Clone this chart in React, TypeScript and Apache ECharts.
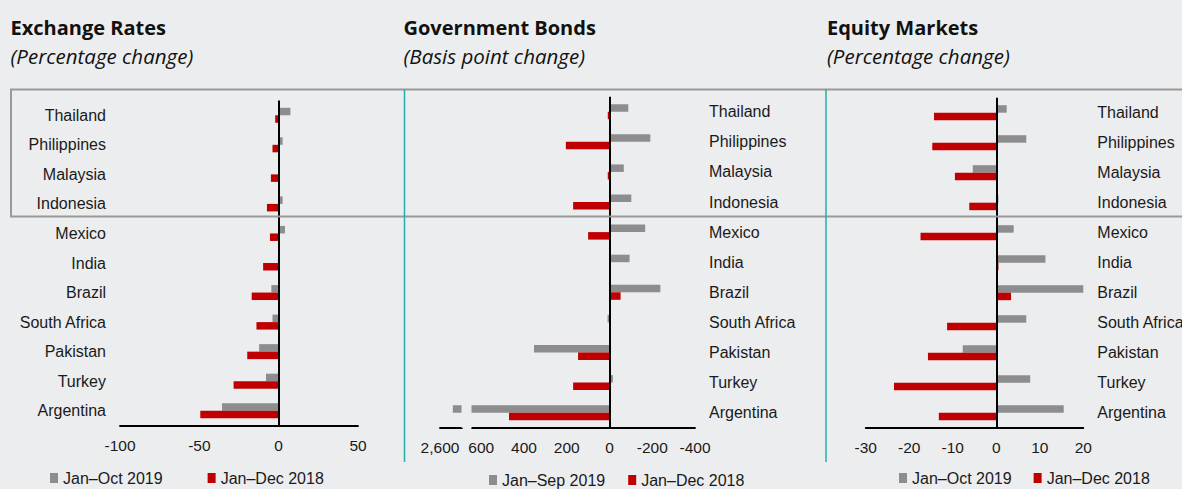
import React, { useEffect, useRef } from 'react';
import * as echarts from 'echarts';

const countries = ['Thailand', 'Philippines', 'Malaysia', 'Indonesia', 'Mexico', 'India', 'Brazil', 'South Africa', 'Pakistan', 'Turkey', 'Argentina'];

const fx2019 = [7.4, 2.5, 0, 2.5, 4.0, -0.5, -4.6, -3.9, -12.3, -8.0, -35.7];
const fx2018 = [-2.2, -3.9, -4.9, -7.4, -5.5, -9.8, -17.0, -14.0, -19.8, -28.4, -49.4];
const bond2019 = [-88, -191, -67, -102, -167, -94, -238, 9, 353, -16, 2540];
const bond2018 = [8, 204, 8, 170, 100, -5, -52, 2, 147, 170, 470];
const eq2019 = [2.4, 6.9, -5.4, 0.5, 4.0, 11.3, 20.3, 6.9, -7.7, 7.8, 15.5];
const eq2018 = [-14.3, -14.7, -9.5, -6.2, -17.4, 0.5, 3.4, -11.3, -15.7, -23.5, -13.2];

const bondTicks = [-400, -200, 0, 200, 400, 600, 2600];

const titles = ['Exchange Rates', 'Government Bonds', 'Equity Markets'];
const subtitles = ['(Percentage change)', '(Basis point change)', '(Percentage change)'];
const legendNames = [
  ['Jan–Oct 2019', 'Jan–Dec 2018'],
  ['Jan–Sep 2019', 'Jan–Dec 2018'],
  ['Jan–Oct 2019', 'Jan–Dec 2018'],
];

const BG = '#ECEDEF';
const GREY = '#8D8D8F';
const RED = '#C00000';
const TXT = '#1a1a1a';
const FONT = '"Liberation Sans", Arial, sans-serif';
const TFONT = '"Open Sans", "Noto Sans", sans-serif';

export default function App() {
  const ref = useRef<HTMLDivElement>(null);
  useEffect(() => {
    if (!ref.current) return;
    const chart = echarts.init(ref.current, null, { renderer: 'svg' });

    const grids = [
      { left: 120, top: 100.5, width: 238, height: 325, outerBoundsMode: 'none', containLabel: false },
      { left: 440, top: 96.7, width: 255, height: 331, outerBoundsMode: 'none', containLabel: false },
      { left: 865.7, top: 97.7, width: 217.6, height: 330, outerBoundsMode: 'none', containLabel: false },
    ];

    const baseX = (i: number) => ({
      type: 'value',
      gridIndex: i,
      splitLine: { show: false },
      axisTick: { show: false },
      axisLine: { show: true, onZero: false, lineStyle: { color: '#000', width: 1.8 } },
      axisLabel: { fontSize: 15.5, color: TXT, fontFamily: FONT, margin: 12 },
    });

    const xAxes: any[] = [
      { ...baseX(0), min: -100, max: 50, interval: 50 },
      {
        ...baseX(1),
        inverse: true,
        min: -400,
        max: 2600,
        breaks: [{ start: 645, end: 2500, gap: '4%' }],
        breakArea: {
          show: true,
          itemStyle: { color: BG, borderColor: BG, borderWidth: 0, opacity: 1 },
          zigzagAmplitude: 0,
          zigzagZ: 100,
          expandOnClick: false,
        },
        axisLabel: {
          fontSize: 15.5,
          color: TXT,
          fontFamily: FONT,
          margin: 12,
          customValues: bondTicks,
          formatter: (v: number) => (Math.abs(v) >= 1000 ? v.toLocaleString('en-US') : String(v)),
        },
      },
      { ...baseX(2), min: -30, max: 20, interval: 10 },
    ];

    const yAxes: any[] = [0, 1, 2].map((i) => ({
      type: 'category',
      gridIndex: i,
      data: countries,
      inverse: true,
      position: i === 0 ? 'left' : 'right',
      axisLine: { show: false, onZero: false },
      axisTick: { show: false },
      axisLabel: { fontSize: 16, color: TXT, fontFamily: FONT, margin: 14 },
    }));

    const data19 = [fx2019, bond2019, eq2019];
    const data18 = [fx2018, bond2018, eq2018];
    const series: any[] = [];
    [0, 1, 2].forEach((i) => {
      series.push({
        type: 'bar',
        name: legendNames[i][0],
        xAxisIndex: i,
        yAxisIndex: i,
        data: data19[i],
        barWidth: 7.5,
        barGap: '0%',
        itemStyle: { color: GREY },
        markLine: {
          silent: true,
          symbol: 'none',
          label: { show: false },
          lineStyle: { color: '#000', width: 2, type: 'solid' },
          data: [{ xAxis: 0 }],
        },
      });
      series.push({
        type: 'bar',
        name: legendNames[i][1],
        xAxisIndex: i,
        yAxisIndex: i,
        data: data18[i],
        barWidth: 7.5,
        barGap: '0%',
        itemStyle: { color: RED },
      });
    });

    const legendPos = [
      { left: 50, top: 470, itemGap: 45 },
      { left: 489, top: 472, itemGap: 23 },
      { left: 899, top: 470, itemGap: 22 },
    ];
    const legends = legendPos.map((p, i) => ({
      ...p,
      orient: 'horizontal',
      data: legendNames[i],
      icon: 'rect',
      itemWidth: 8,
      itemHeight: 10,
      padding: 0,
      selectedMode: false,
      textStyle: { fontSize: 16, color: TXT, fontFamily: FONT },
    }));

    const titleX = [10.5, 403.5, 827];
    const graphic: any[] = [];
    titleX.forEach((x, i) => {
      graphic.push({
        type: 'text',
        x,
        y: 27.5,
        style: { text: titles[i], fontSize: 20, fontWeight: 'bold', fontFamily: TFONT, fill: '#111', verticalAlign: 'middle' },
      });
      graphic.push({
        type: 'text',
        x,
        y: 55.5,
        style: { text: subtitles[i], fontSize: 20.5, fontStyle: 'italic', fontFamily: TFONT, fill: '#111', verticalAlign: 'middle' },
      });
    });
    graphic.push({
      type: 'rect',
      shape: { x: 11, y: 89.5, width: 1200, height: 127 },
      style: { fill: 'none', stroke: '#9a9a9a', lineWidth: 2 },
      z: 1000,
    });
    [404.5, 826].forEach((x) => {
      graphic.push({
        type: 'line',
        shape: { x1: x, y1: 89, x2: x, y2: 462 },
        style: { stroke: '#23AFAB', lineWidth: 1.5 },
        z: 1001,
      });
    });

    chart.setOption({
      animation: false,
      backgroundColor: BG,
      textStyle: { fontFamily: FONT },
      grid: grids,
      xAxis: xAxes,
      yAxis: yAxes,
      series,
      legend: legends,
      graphic,
    });
    return () => chart.dispose();
  }, []);
  return <div ref={ref} style={{ position: 'fixed', left: 0, top: 0, width: 1182, height: 489 }} />;
}
